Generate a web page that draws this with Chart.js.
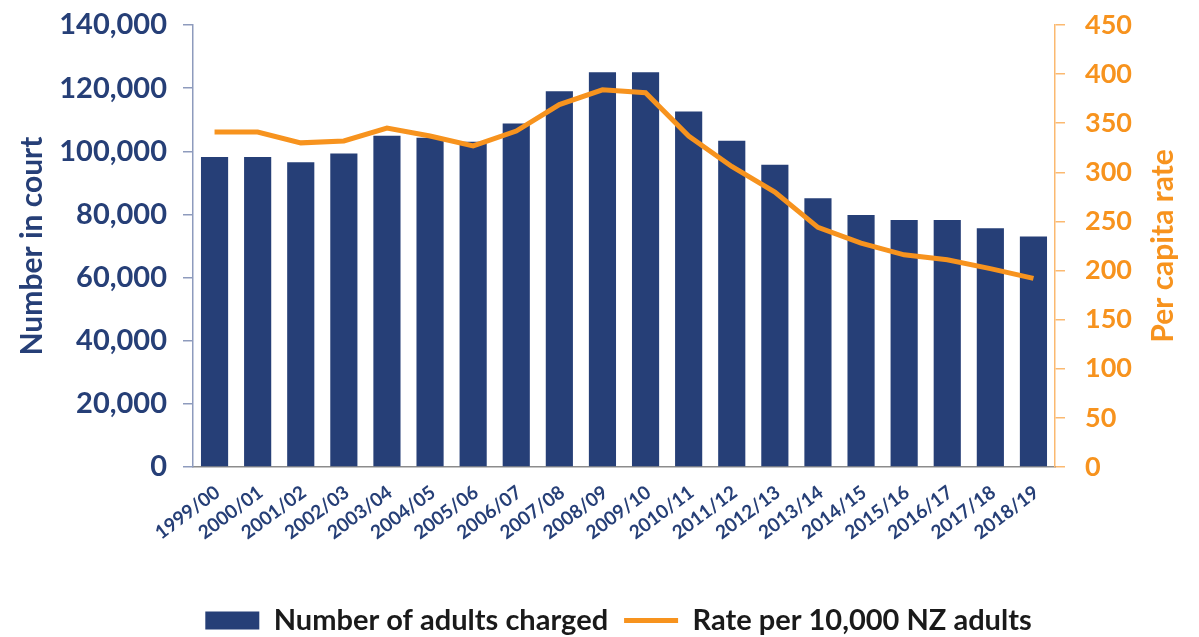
<!DOCTYPE html>
<html>
<head>
<meta charset="utf-8">
<script src="https://cdn.jsdelivr.net/npm/chart.js@4"></script>
<style>
  html, body { margin: 0; padding: 0; background: #fff; }
  #wrap { width: 1199px; height: 637px; }
</style>
</head>
<body>
<div id="wrap"><canvas id="courtChart" width="1199" height="637"></canvas></div>
<script>
const years = ['1999/00', '2000/01', '2001/02', '2002/03', '2003/04', '2004/05', '2005/06',
  '2006/07', '2007/08', '2008/09', '2009/10', '2010/11', '2011/12', '2012/13', '2013/14',
  '2014/15', '2015/16', '2016/17', '2017/18', '2018/19'];
const adultsCharged = [98200, 98200, 96500, 99300, 104900, 104300, 103000, 108800, 119000, 125000,
  125000, 112600, 103300, 95700, 85100, 79800, 78200, 78200, 75600, 73000];
const ratePer10k = [341, 341, 330, 332, 345, 337, 327, 342, 369, 384,
  381, 337, 306, 280, 244, 228, 216, 211, 202, 192];

const navy = '#263f77';
const orange = '#f7931e';
const font = 'Lato';

// both axis titles drawn by hand: the right one reads bottom-to-top in the original
const axisTitles = {
  id: 'axisTitles',
  afterDraw: function (chart) {
    const c = chart.ctx;
    const area = chart.chartArea;
    const midY = (area.top + area.bottom) / 2;
    c.save();
    c.font = 'bold 30px ' + font;
    c.textAlign = 'center';
    c.textBaseline = 'middle';
    c.translate(32, midY);
    c.rotate(-Math.PI / 2);
    c.fillStyle = navy;
    c.fillText('Number in court', 0, 0);
    c.restore();
    c.save();
    c.font = 'bold 30px ' + font;
    c.textAlign = 'center';
    c.textBaseline = 'middle';
    c.translate(1163, midY);
    c.rotate(-Math.PI / 2);
    c.fillStyle = orange;
    c.fillText('Per capita rate', 0, 0);
    c.restore();
  }
};

// keep the plot top where the original has it
function pinY(axis, w) {
  axis.width = w;
  axis.paddingTop = 25;
  axis.paddingBottom = 0;
}

const ctx = document.getElementById('courtChart');

new Chart(ctx, {
  data: {
    labels: years,
    datasets: [{
      type: 'bar',
      label: 'Number of adults charged',
      data: adultsCharged,
      backgroundColor: navy,
      barPercentage: 0.63,
      categoryPercentage: 1,
      yAxisID: 'y',
      order: 2
    }, {
      type: 'line',
      label: 'Rate per 10,000 NZ adults',
      data: ratePer10k,
      borderColor: orange,
      backgroundColor: orange,
      borderWidth: 5,
      pointRadius: 0,
      tension: 0,
      yAxisID: 'y1',
      order: 1
    }]
  },
  options: {
    responsive: false,
    animation: false,
    layout: { padding: { left: 38, right: 0, top: 0, bottom: -8 } },
    plugins: {
      tooltip: { enabled: false },
      legend: {
        position: 'bottom',
        labels: {
          usePointStyle: true,
          pointStyleWidth: 54,
          boxHeight: 18,
          padding: 16,
          color: '#1a1a1a',
          font: { family: font, size: 29, weight: 'bold' },
          sort: (a, b) => a.datasetIndex - b.datasetIndex,
          generateLabels: function (chart) {
            const items = Chart.defaults.plugins.legend.labels.generateLabels(chart);
            items.forEach(function (it) {
              if (it.datasetIndex === 0) {
                it.pointStyle = 'rect';
                it.lineWidth = 0;
              } else {
                it.pointStyle = 'line';
                it.lineWidth = 5;
              }
            });
            return items;
          }
        }
      }
    },
    scales: {
      x: {
        grid: { display: false },
        border: { display: true, color: '#8c8c8c', width: 1.5 },
        ticks: {
          color: navy,
          font: { family: font, size: 19, weight: 'bold' },
          minRotation: 37,
          maxRotation: 37,
          autoSkip: false,
          labelOffset: 3,
          padding: 6
        },
        afterFit: function (axis) { axis.height = 123; }
      },
      y: {
        position: 'left',
        min: 0,
        max: 140000,
        ticks: {
          stepSize: 20000,
          color: navy,
          padding: 16,
          font: { family: font, size: 29, weight: 'bold' },
          callback: v => v.toLocaleString('en-US')
        },
        grid: { drawOnChartArea: false, tickLength: 10, color: '#8e9bbd', lineWidth: 1.5 },
        border: { color: '#8e9bbd', width: 1.5 },
        afterFit: function (axis) { pinY(axis, 155); }
      },
      y1: {
        position: 'right',
        min: 0,
        max: 450,
        ticks: {
          stepSize: 50,
          color: orange,
          padding: 20,
          font: { family: font, size: 27, weight: 'bold' }
        },
        grid: { drawOnChartArea: false, tickLength: 10, color: '#fbb970', lineWidth: 1.5 },
        border: { color: '#fbb970', width: 1.5 },
        afterFit: function (axis) { pinY(axis, 144); }
      }
    }
  },
  plugins: [axisTitles]
});
</script>
</body>
</html>
